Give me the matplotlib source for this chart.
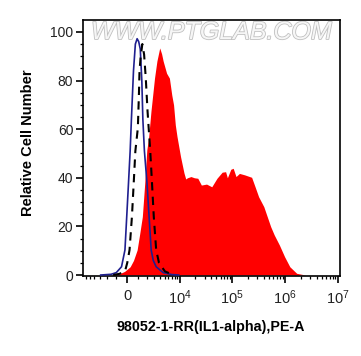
import numpy as np
import matplotlib
matplotlib.use('Agg')
import matplotlib.pyplot as plt
import matplotlib.patheffects as pe

plt.rcParams['font.family'] = ['Liberation Sans', 'DejaVu Sans']
plt.rcParams['mathtext.fontset'] = 'custom'
plt.rcParams['mathtext.rm'] = 'Liberation Sans'
plt.rcParams['mathtext.it'] = 'Liberation Sans:italic'
plt.rcParams['mathtext.bf'] = 'Liberation Sans:bold'

# ---------------- data (fluorescence intensity, relative cell number) ----------------
red_x = [-1520, -683, -211, 276, 577, 919, 1178, 1452, 1720, 1969, 2193, 2517, 3048,
         3448, 3965, 4343, 4680, 5500, 6261, 6985, 7568, 8195, 8831, 10344, 12045,
         13026, 14017, 16380, 19050, 22140, 25860, 32480, 40800, 51230, 64280, 74680,
         80680, 93730, 104000, 117600, 136600, 171600, 232600, 270300, 315500, 396000,
         459800, 534300, 623800, 782800, 982400, 1233000, 1664000, 2438000]
red_y = [0, 0.5, 1.5, 3.4, 6, 10.3, 17, 24, 37.7, 51.4, 56.4, 67.4, 81,
         88, 93.4, 91, 88, 83, 81, 74, 70, 61.7, 57, 48.7, 42,
         39.5, 40, 40.5, 40, 39.8, 37, 37.4, 36.3, 39.8, 42.3, 42.5,
         40, 43.5, 43.9, 40.5, 41.8, 41.2, 40.2, 36.3, 32.2, 28.1,
         24, 19.9, 16.5, 12.3, 7.5, 3.4, 0.7, 0]

blue_x = [-2870, -1520, -981, -491, -184, -27, 128, 276, 388, 577, 751, 919, 1073,
          1232, 1396, 1510, 1684, 1995, 2261, 2546, 2853, 3322, 4680, 6887, 9560]
blue_y = [0, 0.3, 1, 3.4, 10.3, 24, 37.7, 51, 64, 84, 95, 97.2, 96,
          93, 80, 64, 51, 37.7, 24, 10.3, 6, 3.4, 1, 0.2, 0]

black_x = [-1297, -683, -184, 18.5, 221, 435, 596, 751, 990, 1094, 1157, 1264, 1452,
           1649, 1843, 2060, 2430, 2667, 2933, 3322, 3826, 5088, 7568]
black_y = [0, 0.5, 1.5, 5, 10.3, 24, 37.7, 51, 60.5, 74, 84, 89.3, 95,
           90.7, 81, 67.4, 50.2, 37.7, 24, 10.3, 5, 1.5, 0]

x_ticks = [0, 1e4, 1e5, 1e6, 1e7]
x_tick_labels = ['0', r'$\mathregular{10^{4}}$', r'$\mathregular{10^{5}}$',
                 r'$\mathregular{10^{6}}$', r'$\mathregular{10^{7}}$']
y_ticks = [0, 20, 40, 60, 80, 100]

# ---------------- biexponential-like (arcsinh) scale ----------------
C = 2020.0
LN10 = np.log(10.0)


def fwd(x):
    return np.arcsinh(np.asarray(x, dtype=float) / C) / LN10


def inv(y):
    return C * np.sinh(np.asarray(y, dtype=float) * LN10)


fig = plt.figure(figsize=(3.61, 3.56), dpi=100)
ax = fig.add_axes([83 / 361, 1 - 276 / 356, 257 / 361, 256 / 356])
ax.set_xscale('function', functions=(fwd, inv))

ax.fill_between(red_x, red_y, 0, color='#ff0000', lw=0, zorder=2)
ax.plot(blue_x, blue_y, color='#1f1f8f', lw=1.2, zorder=3)
ax.plot(black_x, black_y, color='black', lw=1.5, ls=(0, (4, 3)), zorder=4)

ax.set_xlim(-6758, 1.102e7)
ax.set_ylim(-0.4, 104.9)

minor_x = [-6000, -5000, -4000, -3000, -2000, -1000]
minor_x += [k * 1000 for k in range(1, 10)]
for dec in [1e4, 1e5, 1e6]:
    minor_x += [k * dec for k in range(2, 10)]

ax.set_xticks(x_ticks)
ax.set_xticklabels(x_tick_labels)
ax.set_xticks(minor_x, minor=True)
ax.set_yticks(y_ticks)
ax.set_yticks(np.arange(0, 105, 5), minor=True)

ax.tick_params(axis='both', which='major', direction='out', length=5, width=1.2,
               labelsize=10, colors='black', labelcolor='#222222')
ax.tick_params(axis='x', which='major', labelsize=10.5)
ax.tick_params(axis='both', which='minor', direction='out', length=2.5, width=0.9)
ax.tick_params(axis='x', which='major', pad=4)
ax.tick_params(axis='y', which='major', pad=2)

for s in ax.spines.values():
    s.set_linewidth(1.2)
    s.set_color('black')

ax.text(0.5, 0.953, 'WWW.PTGLAB.COM', transform=ax.transAxes, ha='center',
        va='center', fontsize=18, style='italic', color='#f6f6f6', zorder=1,
        path_effects=[pe.withStroke(linewidth=1.2, foreground='#c0c0c0')])

fig.text(28 / 361, 1 - 143 / 356, 'Relative Cell Number', rotation=90,
         ha='center', va='center', fontsize=10.5, fontweight='bold')
fig.text(211 / 361, 1 - 327 / 356, '98052-1-RR(IL1-alpha),PE-A',
         ha='center', va='center', fontsize=10.3, fontweight='bold')

fig.savefig('out.png', dpi=100, facecolor='white')
